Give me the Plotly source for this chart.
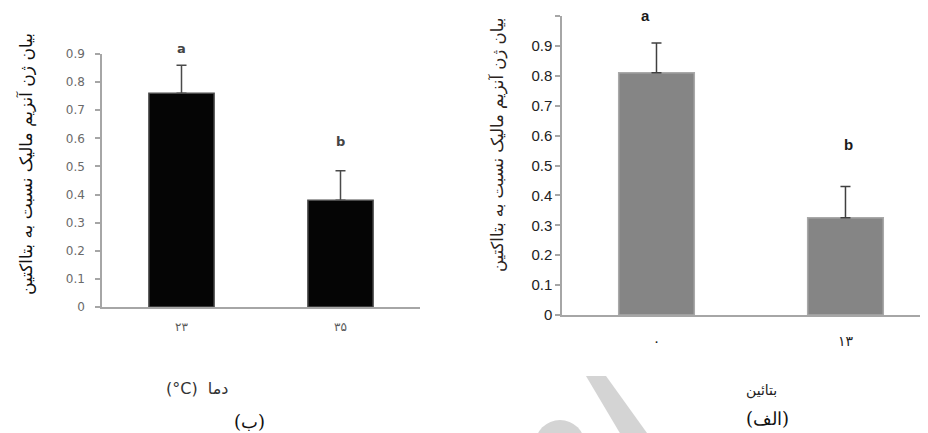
import plotly.graph_objects as go

W, H = 928, 433
OFF = 8  # page body margin in the viewer

# Panel (ب): temperature
temp_labels = ["۲۳", "۳۵"]
temp_values = [0.76, 0.38]
temp_errors = [0.10, 0.105]
temp_letters = ["a", "b"]
temp_letter_y = [0.92, 0.59]
temp_yticks = [0, 0.1, 0.2, 0.3, 0.4, 0.5, 0.6, 0.7, 0.8, 0.9]
temp_yticktext = ["0", "0.1", "0.2", "0.3", "0.4", "0.5", "0.6", "0.7", "0.8", "0.9"]

# Panel (الف): betaine
bet_labels = ["۰", "۱۳"]
bet_values = [0.81, 0.325]
bet_errors = [0.10, 0.105]
bet_letters = ["a", "b"]
bet_letter_y = [1.0, 0.57]
bet_letter_shift = [-11, 3]
bet_yticks = [0, 0.1, 0.2, 0.3, 0.4, 0.5, 0.6, 0.7, 0.8, 0.9, 1.0]
bet_yticktext = ["0", "0.1", "0.2", "0.3", "0.4", "0.5", "0.6", "0.7", "0.8", "0.9", "1"]

ytitle = "بیان ژن آنزیم مالیک نسبت به بتااکتین"

TEMP_YMAX = 0.9
BET_YMAX = 1.0
BET_XMAX = 1.479


def px(x):
    return (x - OFF) / W


def py(y):
    return 1 - (y - OFF) / H


fig = go.Figure()

fig.add_trace(go.Bar(
    x=temp_labels, y=temp_values, xaxis="x", yaxis="y",
    width=0.41,
    marker=dict(color="#050505", line=dict(color="#4a4a4a", width=1.5)),
    error_y=dict(type="data", symmetric=False, array=temp_errors, arrayminus=[0, 0],
                 color="#4a4a4a", thickness=1.5, width=5),
    showlegend=False,
))

fig.add_trace(go.Bar(
    x=bet_labels, y=bet_values, xaxis="x2", yaxis="y2",
    width=0.40,
    marker=dict(color="#858585", line=dict(color="#a9a9a9", width=1.5)),
    error_y=dict(type="data", symmetric=False, array=bet_errors, arrayminus=[0, 0],
                 color="#404040", thickness=1.5, width=5),
    showlegend=False,
))

axis_line = "#a6a6a6"

fig.update_layout(
    template="none",
    width=W, height=H,
    margin=dict(l=0, r=0, t=0, b=0, pad=0, autoexpand=False),
    paper_bgcolor="white", plot_bgcolor="white",
    showlegend=False,
    xaxis=dict(domain=[px(102), px(420)], type="category", range=[-0.5, 1.5],
               showline=True, linecolor=axis_line, linewidth=1.5, ticks="",
               showgrid=False, zeroline=False, anchor="y", automargin=False,
               tickfont=dict(family="DejaVu Sans", size=12, color="#5a5a5a"),
               ticklabelstandoff=8, fixedrange=True),
    yaxis=dict(domain=[py(307), py(54)], range=[0, TEMP_YMAX],
               tickvals=temp_yticks, ticktext=temp_yticktext,
               showline=True, linecolor=axis_line, linewidth=1.5,
               ticks="outside", ticklen=5, tickcolor=axis_line, tickwidth=1.5,
               showgrid=False, zeroline=False, anchor="x", automargin=False,
               tickfont=dict(family="DejaVu Sans", size=12, color="#6a6a6a"),
               ticklabelstandoff=8),
    xaxis2=dict(domain=[px(562), 1.0],
                type="category", range=[-0.5, BET_XMAX],
                showline=True, linecolor=axis_line, linewidth=1.5, ticks="",
                showgrid=False, zeroline=False, anchor="y2", automargin=False,
                tickfont=dict(family="DejaVu Sans", size=14, color="#222222"),
                ticklabelstandoff=12),
    yaxis2=dict(domain=[py(315), py(16)], range=[0, BET_YMAX],
                tickvals=bet_yticks, ticktext=bet_yticktext,
                showline=True, linecolor=axis_line, linewidth=1.5,
                ticks="outside", ticklen=5, tickcolor=axis_line, tickwidth=1.5,
                showgrid=False, zeroline=False, anchor="x2", automargin=False,
                tickfont=dict(family="Liberation Sans", size=15, color="#222222")),
)

# faint watermark fragments at the bottom of the page
wm = "#d4d4d4"
fig.add_shape(type="circle", xref="paper", yref="paper", layer="below",
              x0=px(535), x1=px(585), y0=py(470), y1=py(420),
              fillcolor=wm, line=dict(width=0))
fig.add_shape(type="path", xref="paper", yref="paper", layer="below",
              path="M %f %f L %f %f L %f %f L %f %f Z" % (
                  px(586), py(376), px(606), py(376), px(652), py(440), px(624), py(440)),
              fillcolor=wm, line=dict(width=0))

ann = []
for i, (ly, letter) in enumerate(zip(temp_letter_y, temp_letters)):
    ann.append(dict(x=(i + 0.5) / 2.0, y=ly / TEMP_YMAX, xref="x domain", yref="y domain",
                    text="<b>%s</b>" % letter, xanchor="center", yanchor="middle",
                    showarrow=False, font=dict(family="DejaVu Sans", size=13, color="#444444")))
for i, (ly, letter, sh) in enumerate(zip(bet_letter_y, bet_letters, bet_letter_shift)):
    ann.append(dict(x=(i + 0.5) / (BET_XMAX + 0.5), y=ly / BET_YMAX, xref="x2 domain", yref="y2 domain",
                    text="<b>%s</b>" % letter, xshift=sh, xanchor="center", yanchor="middle",
                    showarrow=False, font=dict(family="Liberation Sans", size=15, color="#1a1a1a")))

common = dict(xref="paper", yref="paper", showarrow=False, xanchor="center", yanchor="middle")
ann += [
    dict(x=px(26), y=py(164), text=ytitle, textangle=-90,
         font=dict(family="DejaVu Sans", size=17, color="#111111"), **common),
    dict(x=px(498), y=py(145), text=ytitle, textangle=-90,
         font=dict(family="DejaVu Sans", size=16.5, color="#2a2320"), **common),
    dict(x=px(197), y=py(388), text="(°C)\u00a0 دما",
         font=dict(family="DejaVu Sans", size=16, color="#333333"), **common),
    dict(x=px(249), y=py(421), text="(ب)",
         font=dict(family="DejaVu Serif", size=18, color="#111111"), **common),
    dict(x=px(761), y=py(390), text="بتائین",
         font=dict(family="DejaVu Sans", size=14, color="#222222"), **common),
    dict(x=px(767), y=py(418), text="(الف)",
         font=dict(family="DejaVu Serif", size=18, color="#111111"), **common),
]
fig.update_layout(annotations=ann)

fig.write_html("out.html")
